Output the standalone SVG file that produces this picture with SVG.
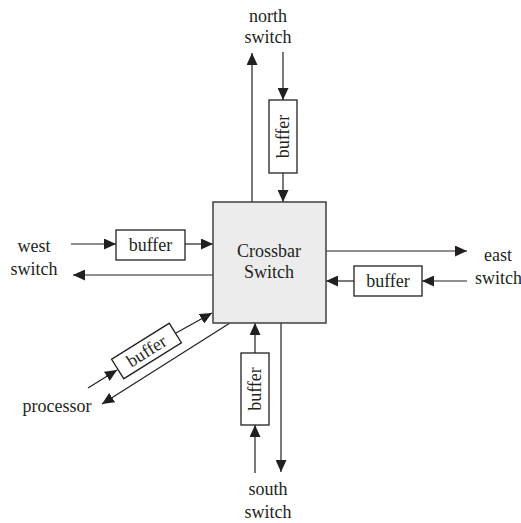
<svg xmlns="http://www.w3.org/2000/svg" width="521" height="523" viewBox="0 0 521 523">
  <style>
    .wire { stroke: #231f20; stroke-width: 1.2; fill: none; marker-end: url(#head); }
    .buf { fill: #ffffff; stroke: #231f20; stroke-width: 1.3; }
    .core { fill: #ececec; stroke: #4a4a4a; stroke-width: 1.6; }
    .lbl { font-family: "Liberation Serif", serif; font-size: 18px; fill: #231f20; text-anchor: middle; }
    .start { text-anchor: start; }
  </style>
  <defs>
    <marker id="head" markerUnits="userSpaceOnUse" markerWidth="12" markerHeight="11" refX="12" refY="5.5" orient="auto">
      <path d="M0,0 L12,5.5 L0,11 Z" fill="#231f20"/>
    </marker>
  </defs>

  <rect width="521" height="523" fill="#ffffff"/>

  <!-- connectors -->
  <g id="connectors">
    <!-- north -->
    <line class="wire" x1="252" y1="202" x2="252" y2="53"/>
    <line class="wire" x1="283" y1="52" x2="283" y2="100"/>
    <line class="wire" x1="283" y1="173" x2="283" y2="202"/>
    <!-- west -->
    <line class="wire" x1="71" y1="244" x2="116" y2="244"/>
    <line class="wire" x1="185" y1="244" x2="213" y2="244"/>
    <line class="wire" x1="213" y1="275" x2="73" y2="275"/>
    <!-- east -->
    <line class="wire" x1="326" y1="251" x2="467" y2="251"/>
    <line class="wire" x1="467" y1="281" x2="422" y2="281"/>
    <line class="wire" x1="354" y1="281" x2="326" y2="281"/>
    <!-- south -->
    <line class="wire" x1="255" y1="473" x2="255" y2="425"/>
    <line class="wire" x1="255" y1="353" x2="255" y2="323"/>
    <line class="wire" x1="281" y1="323" x2="281" y2="472"/>
    <!-- processor -->
    <line class="wire" x1="88" y1="388" x2="117" y2="370"/>
    <line class="wire" x1="176" y1="333" x2="212" y2="313"/>
    <line class="wire" x1="230" y1="323" x2="102" y2="404"/>
  </g>

  <!-- crossbar -->
  <g id="crossbar">
    <rect class="core" x="213" y="202" width="113" height="121"/>
    <text class="lbl" x="269" y="257">Crossbar</text>
    <text class="lbl" x="269" y="278">Switch</text>
  </g>

  <!-- buffers -->
  <g id="buffer-north" transform="translate(283,136.5) rotate(-90)">
    <rect class="buf" x="-36.5" y="-14" width="73" height="28"/>
    <text class="lbl" x="0" y="6">buffer</text>
  </g>
  <g id="buffer-west">
    <rect class="buf" x="116" y="230" width="69" height="30"/>
    <text class="lbl" x="150.5" y="251">buffer</text>
  </g>
  <g id="buffer-east">
    <rect class="buf" x="354" y="266" width="68" height="30"/>
    <text class="lbl" x="388" y="287">buffer</text>
  </g>
  <g id="buffer-south" transform="translate(255,389) rotate(-90)">
    <rect class="buf" x="-36" y="-14" width="72" height="28"/>
    <text class="lbl" x="0" y="6">buffer</text>
  </g>
  <g id="buffer-processor" transform="translate(146.5,351) rotate(-32)">
    <rect class="buf" x="-34" y="-11.5" width="68" height="23"/>
    <text class="lbl" x="0" y="6">buffer</text>
  </g>

  <!-- endpoint labels -->
  <g id="north-switch">
    <text class="lbl" x="268" y="22">north</text>
    <text class="lbl" x="268" y="43">switch</text>
  </g>
  <g id="west-switch">
    <text class="lbl" x="34" y="252">west</text>
    <text class="lbl" x="34" y="275">switch</text>
  </g>
  <g id="east-switch">
    <text class="lbl" x="498" y="261">east</text>
    <text class="lbl start" x="475" y="284">switch</text>
  </g>
  <g id="south-switch">
    <text class="lbl" x="268" y="495">south</text>
    <text class="lbl" x="268" y="518">switch</text>
  </g>
  <g id="processor">
    <text class="lbl" x="57" y="412">processor</text>
  </g>
</svg>
